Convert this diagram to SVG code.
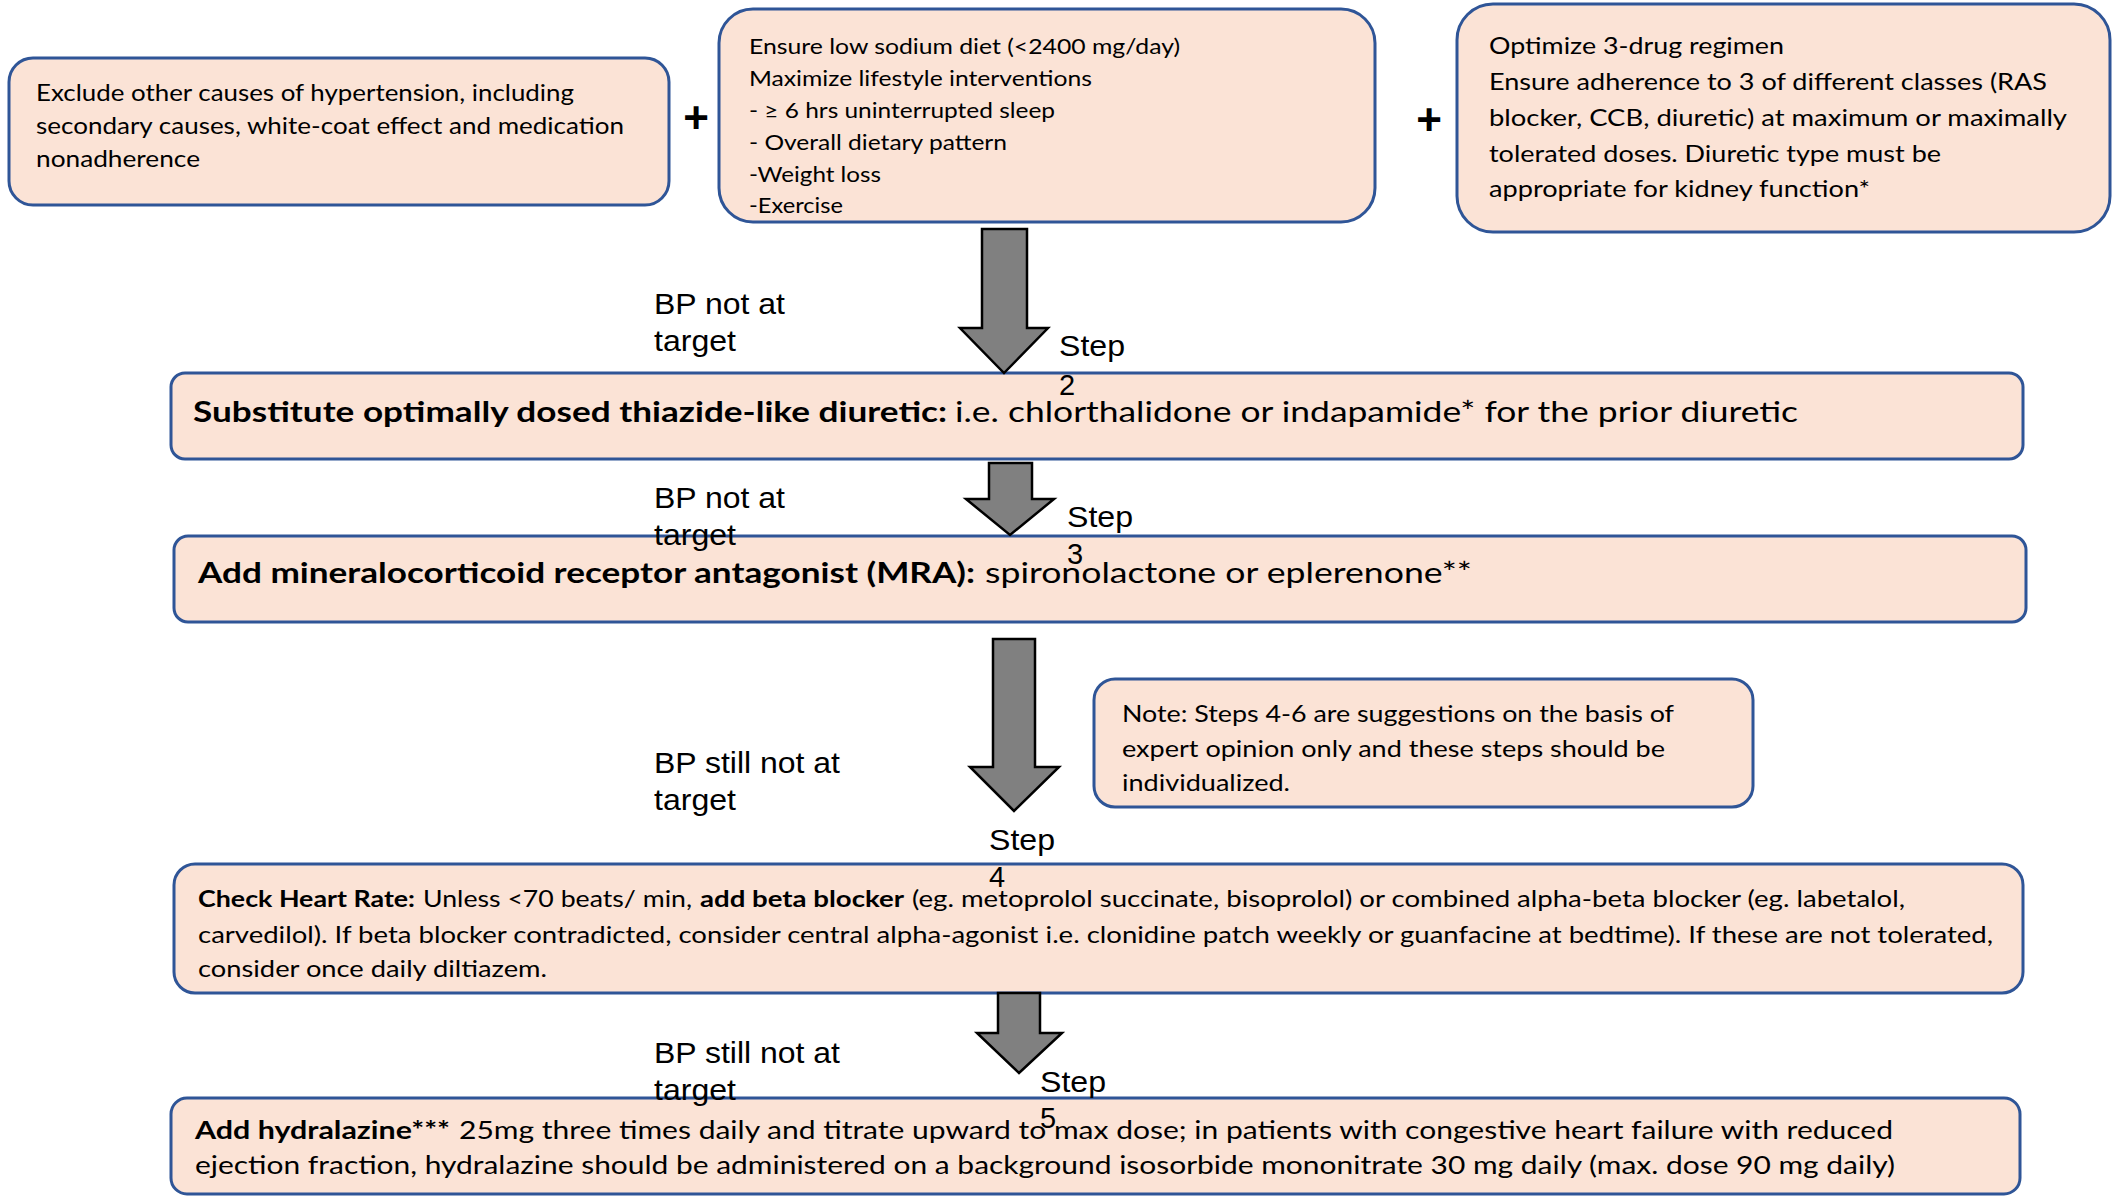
<svg xmlns="http://www.w3.org/2000/svg" width="2112" height="1196" viewBox="0 0 2112 1196">
<style>
.box{fill:#FBE3D6;stroke:#2F5597;stroke-width:3}
.t{font-family:Lato,"Open Sans","Liberation Sans",sans-serif;fill:#000}
.b{font-weight:bold}
.lbl{font-family:"Liberation Sans",Arial,sans-serif;font-size:29px;fill:#000}
.plus{font-family:"Liberation Sans",Arial,sans-serif;font-size:44px;font-weight:bold;fill:#000;text-anchor:middle}
.arr{fill:#808080;stroke:#000;stroke-width:2.5;stroke-linejoin:miter}
</style>
<rect width="2112" height="1196" fill="#fff"/>

<g id="node-exclude">
<rect class="box" x="9" y="58" width="660" height="147" rx="24"/>
<text class="t" font-size="22.5" x="36" y="101" textLength="538" lengthAdjust="spacingAndGlyphs">Exclude other causes of hypertension, including</text>
<text class="t" font-size="22.5" x="36" y="134" textLength="588" lengthAdjust="spacingAndGlyphs">secondary causes, white-coat effect and medication</text>
<text class="t" font-size="22.5" x="36" y="167" textLength="164" lengthAdjust="spacingAndGlyphs">nonadherence</text>
</g>

<text class="plus" x="696" y="133">+</text>

<g id="node-lifestyle">
<rect class="box" x="719" y="9" width="656" height="213" rx="34"/>
<text class="t" font-size="21.5" x="749" y="54" textLength="431" lengthAdjust="spacingAndGlyphs">Ensure low sodium diet (&lt;2400 mg/day)</text>
<text class="t" font-size="21.5" x="749" y="86" textLength="343" lengthAdjust="spacingAndGlyphs">Maximize lifestyle interventions</text>
<text class="t" font-size="21.5" x="749" y="118" textLength="306" lengthAdjust="spacingAndGlyphs">- ≥ 6 hrs uninterrupted sleep</text>
<text class="t" font-size="21.5" x="749" y="150" textLength="258" lengthAdjust="spacingAndGlyphs">- Overall dietary pattern</text>
<text class="t" font-size="21.5" x="749" y="182" textLength="132" lengthAdjust="spacingAndGlyphs">-Weight loss</text>
<text class="t" font-size="21.5" x="749" y="213" textLength="94" lengthAdjust="spacingAndGlyphs">-Exercise</text>
</g>

<text class="plus" x="1429" y="135">+</text>

<g id="node-regimen">
<rect class="box" x="1457" y="4" width="653" height="228" rx="36"/>
<text class="t" font-size="23.5" x="1489" y="54" textLength="295" lengthAdjust="spacingAndGlyphs">Optimize 3-drug regimen</text>
<text class="t" font-size="23.5" x="1489" y="90" textLength="558" lengthAdjust="spacingAndGlyphs">Ensure adherence to 3 of different classes (RAS</text>
<text class="t" font-size="23.5" x="1489" y="126" textLength="578" lengthAdjust="spacingAndGlyphs">blocker, CCB, diuretic) at maximum or maximally</text>
<text class="t" font-size="23.5" x="1489" y="162" textLength="452" lengthAdjust="spacingAndGlyphs">tolerated doses. Diuretic type must be</text>
<text class="t" font-size="23.5" x="1489" y="197" textLength="381" lengthAdjust="spacingAndGlyphs">appropriate for kidney function*</text>
</g>

<g id="node-step2">
<rect class="box" x="171" y="373" width="1852" height="86" rx="14"/>
<text class="t b" font-size="28" x="193" y="422" textLength="754" lengthAdjust="spacingAndGlyphs">Substitute optimally dosed thiazide-like diuretic:</text>
<text class="t" font-size="28" x="955" y="422" textLength="843" lengthAdjust="spacingAndGlyphs">i.e. chlorthalidone or indapamide* for the prior diuretic</text>
</g>

<g id="node-step3">
<rect class="box" x="174" y="536" width="1852" height="86" rx="14"/>
<text class="t b" font-size="28" x="198" y="583" textLength="777" lengthAdjust="spacingAndGlyphs">Add mineralocorticoid receptor antagonist (MRA):</text>
<text class="t" font-size="28" x="985" y="583" textLength="487" lengthAdjust="spacingAndGlyphs">spironolactone or eplerenone**</text>
</g>

<g id="node-note">
<rect class="box" x="1094" y="679" width="659" height="128" rx="21"/>
<text class="t" font-size="22.5" x="1122" y="722" textLength="552" lengthAdjust="spacingAndGlyphs">Note: Steps 4-6 are suggestions on the basis of</text>
<text class="t" font-size="22.5" x="1122" y="757" textLength="543" lengthAdjust="spacingAndGlyphs">expert opinion only and these steps should be</text>
<text class="t" font-size="22.5" x="1122" y="791" textLength="168" lengthAdjust="spacingAndGlyphs">individualized.</text>
</g>

<g id="node-step4">
<rect class="box" x="174" y="864" width="1849" height="129" rx="21"/>
<text class="t b" font-size="23" x="198" y="907" textLength="217" lengthAdjust="spacingAndGlyphs">Check Heart Rate:</text>
<text class="t" font-size="23" x="423" y="907" textLength="269" lengthAdjust="spacingAndGlyphs">Unless &lt;70 beats/ min,</text>
<text class="t b" font-size="23" x="700" y="907" textLength="204" lengthAdjust="spacingAndGlyphs">add beta blocker</text>
<text class="t" font-size="23" x="912" y="907" textLength="993" lengthAdjust="spacingAndGlyphs">(eg. metoprolol succinate, bisoprolol) or combined alpha-beta blocker (eg. labetalol,</text>
<text class="t" font-size="23" x="198" y="943" textLength="1795" lengthAdjust="spacingAndGlyphs">carvedilol). If beta blocker contradicted, consider central alpha-agonist i.e. clonidine patch weekly or guanfacine at bedtime). If these are not tolerated,</text>
<text class="t" font-size="23" x="198" y="977" textLength="349" lengthAdjust="spacingAndGlyphs">consider once daily diltiazem.</text>
</g>

<g id="node-step5">
<rect class="box" x="171" y="1098" width="1849" height="96" rx="16"/>
<text class="t b" font-size="25.5" x="195" y="1139" textLength="255" lengthAdjust="spacingAndGlyphs">Add hydralazine***</text>
<text class="t" font-size="25.5" x="459" y="1139" textLength="1434" lengthAdjust="spacingAndGlyphs">25mg three times daily and titrate upward to max dose; in patients with congestive heart failure with reduced</text>
<text class="t" font-size="25.5" x="195" y="1174" textLength="1700" lengthAdjust="spacingAndGlyphs">ejection fraction, hydralazine should be administered on a background isosorbide mononitrate 30 mg daily (max. dose 90 mg daily)</text>
</g>

<g id="connectors">
<polygon class="arr" points="982,229 1027,229 1027,328 1048,328 1004,373 960,328 982,328"/>
<polygon class="arr" points="989,463 1032,463 1032,499 1054,499 1010,535 966,499 989,499"/>
<polygon class="arr" points="993,639 1035,639 1035,767 1059,767 1014,811 970,767 993,767"/>
<polygon class="arr" points="998,993 1040,993 1040,1033 1062,1033 1019,1073 977,1033 998,1033"/>
</g>

<g id="labels">
<text class="lbl" x="654" y="314" textLength="131" lengthAdjust="spacingAndGlyphs">BP not at</text>
<text class="lbl" x="654" y="351" textLength="82" lengthAdjust="spacingAndGlyphs">target</text>
<text class="lbl" x="1059" y="356" textLength="66" lengthAdjust="spacingAndGlyphs">Step</text>
<text class="lbl" x="1059" y="395">2</text>

<text class="lbl" x="654" y="508" textLength="131" lengthAdjust="spacingAndGlyphs">BP not at</text>
<text class="lbl" x="654" y="545" textLength="82" lengthAdjust="spacingAndGlyphs">target</text>
<text class="lbl" x="1067" y="527" textLength="66" lengthAdjust="spacingAndGlyphs">Step</text>
<text class="lbl" x="1067" y="564">3</text>

<text class="lbl" x="654" y="773" textLength="186" lengthAdjust="spacingAndGlyphs">BP still not at</text>
<text class="lbl" x="654" y="810" textLength="82" lengthAdjust="spacingAndGlyphs">target</text>
<text class="lbl" x="989" y="850" textLength="66" lengthAdjust="spacingAndGlyphs">Step</text>
<text class="lbl" x="989" y="887">4</text>

<text class="lbl" x="654" y="1063" textLength="186" lengthAdjust="spacingAndGlyphs">BP still not at</text>
<text class="lbl" x="654" y="1100" textLength="82" lengthAdjust="spacingAndGlyphs">target</text>
<text class="lbl" x="1040" y="1092" textLength="66" lengthAdjust="spacingAndGlyphs">Step</text>
<text class="lbl" x="1040" y="1128">5</text>
</g>
</svg>
